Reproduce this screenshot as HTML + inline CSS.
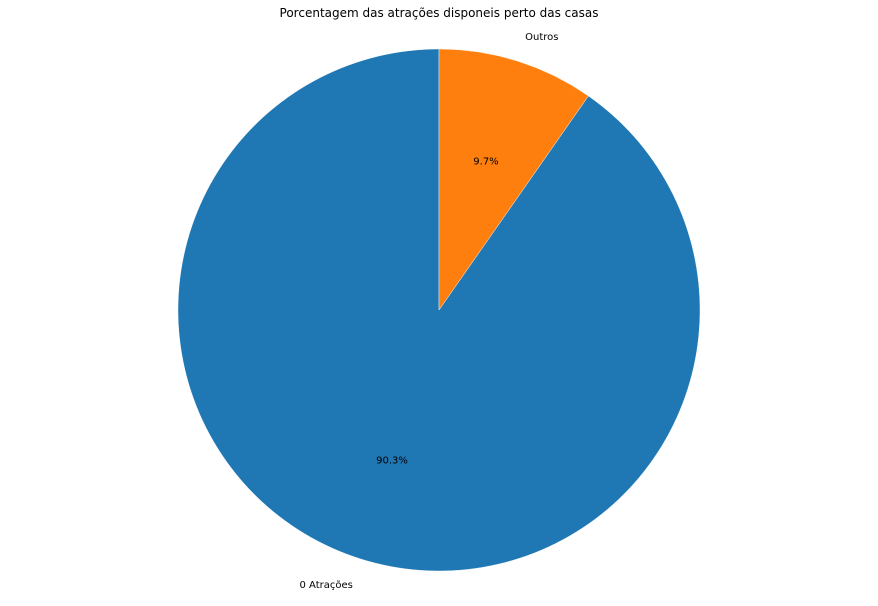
<!DOCTYPE html>
<html><head><meta charset="utf-8">
<style>
html,body{margin:0;padding:0;background:#fff;}
svg{display:block;font-family:"DejaVu Sans","Liberation Sans",sans-serif;}
</style></head>
<body>
<svg id="chart" width="878" height="606" viewBox="0 0 878 606">
<text x="439" y="17" text-anchor="middle" font-size="12" fill="#000">Porcentagem das atrações disponeis perto das casas</text>
<g id="slices"></g>
</svg>
<script>
const categories = ["0 Atrações", "Outros"];
const values = [90.3, 9.7];
const colors = ["#1f77b4", "#ff7f0e"];

const cx = 439, cy = 310, r = 261;
const svg = document.getElementById('slices');
const NS = 'http://www.w3.org/2000/svg';
const total = values.reduce((a,b)=>a+b,0);
let start = 90;
function pt(deg, rad){ const a = deg*Math.PI/180; return [cx + rad*Math.cos(a), cy - rad*Math.sin(a)]; }
values.forEach((v,i)=>{
  const sweep = v/total*360;
  const end = start + sweep;
  const [x1,y1] = pt(start, r), [x2,y2] = pt(end, r);
  const large = sweep > 180 ? 1 : 0;
  const p = document.createElementNS(NS,'path');
  p.setAttribute('d', `M${cx},${cy} L${x1},${y1} A${r},${r} 0 ${large} 0 ${x2},${y2} Z`);
  p.setAttribute('fill', colors[i]);
  p.setAttribute('stroke', '#ffffff');
  p.setAttribute('stroke-width', '0.4');
  
  
  svg.appendChild(p);
  const mid = start + sweep/2;
  const [lx,ly] = pt(mid, r*1.1);
  const t = document.createElementNS(NS,'text');
  t.setAttribute('x', lx); t.setAttribute('y', ly + 4);
  t.setAttribute('font-size', '10');
  t.setAttribute('text-anchor', Math.cos(mid*Math.PI/180) >= 0 ? 'start' : 'end');
  t.textContent = categories[i];
  
  
  svg.appendChild(t);
  const [px,py] = pt(mid, r*0.6);
  const pc = document.createElementNS(NS,'text');
  pc.setAttribute('x', px); pc.setAttribute('y', py + 4);
  pc.setAttribute('font-size', '10');
  pc.setAttribute('text-anchor', 'middle');
  pc.textContent = (v/total*100).toFixed(1) + '%';
  
  
  svg.appendChild(pc);
  start = end;
});
</script>
</body></html>
